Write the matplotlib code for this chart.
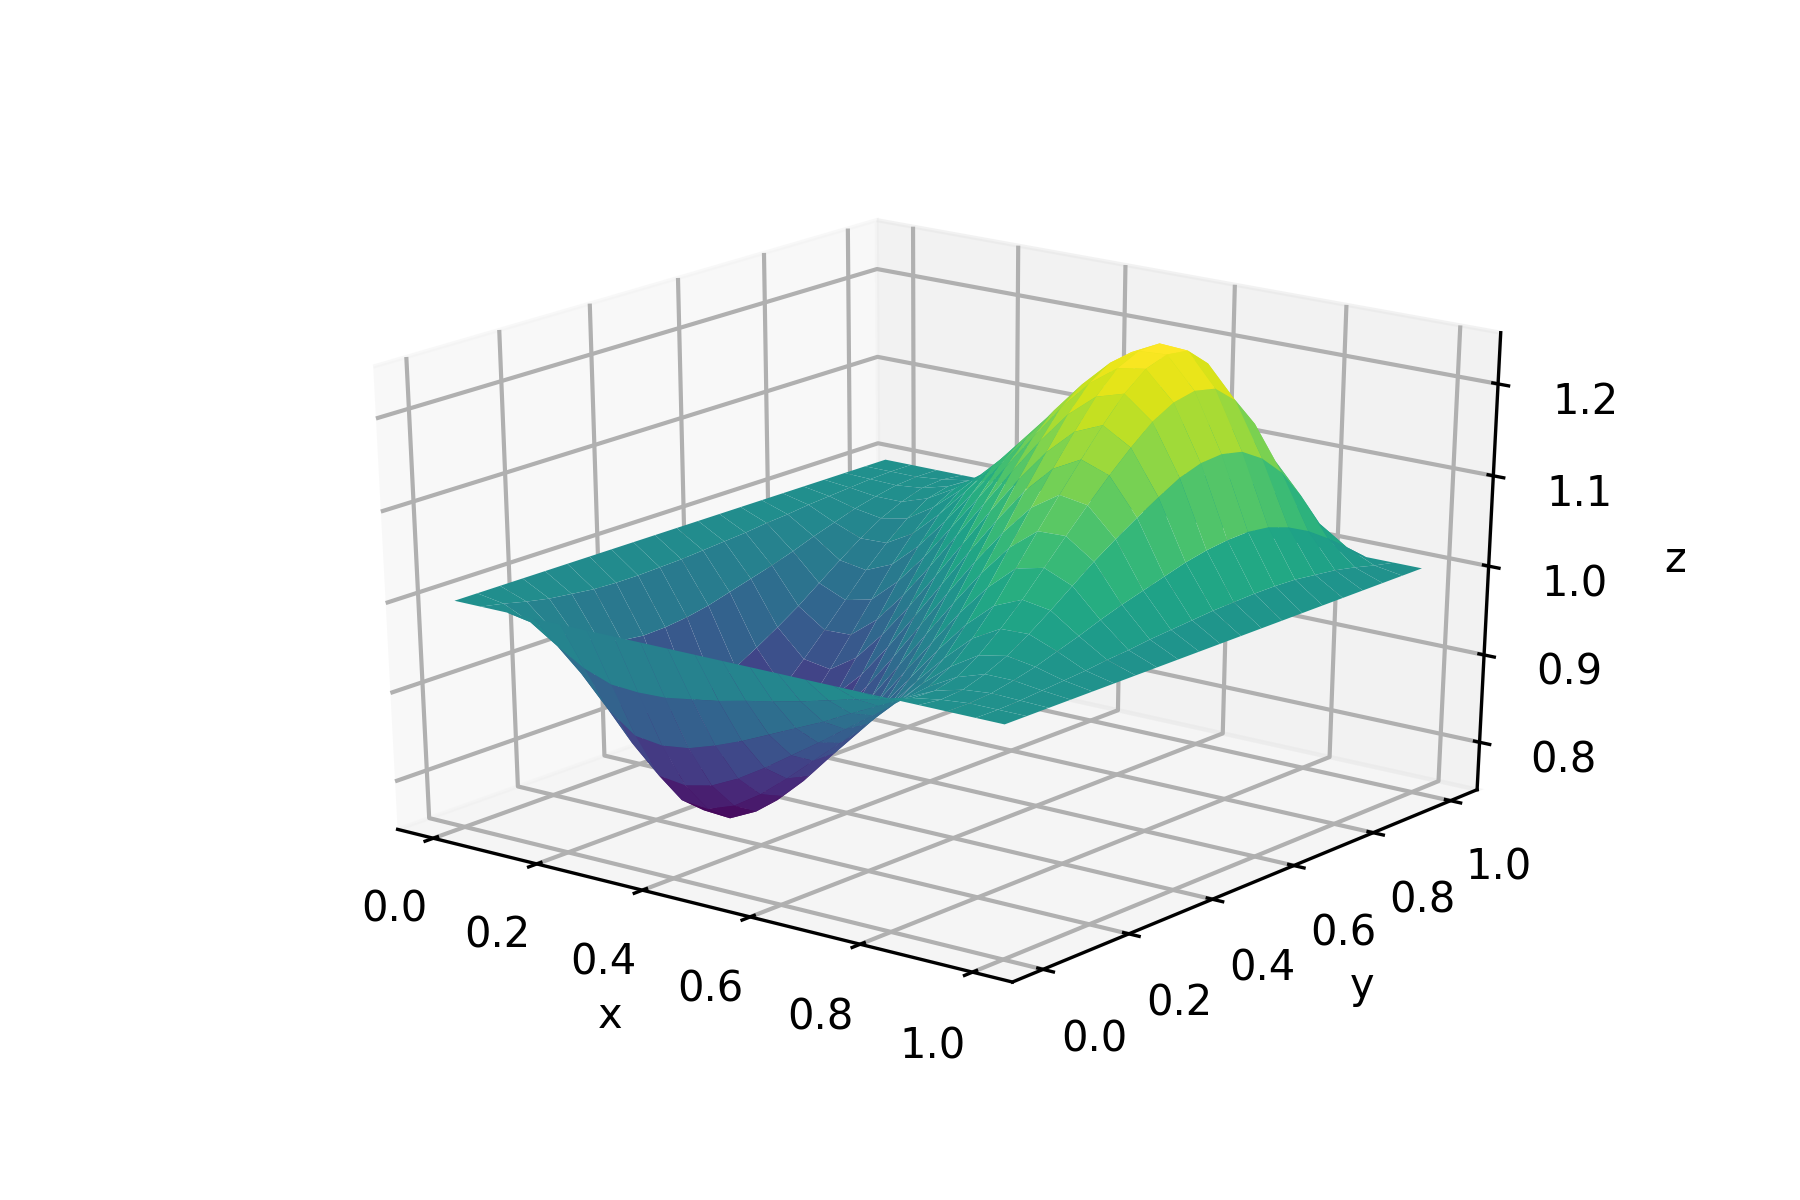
import numpy as np
import matplotlib
matplotlib.use("Agg")
import matplotlib.pyplot as plt

# grid: 20 cells each way
x_vals = [0.00, 0.05, 0.10, 0.15, 0.20, 0.25, 0.30, 0.35, 0.40, 0.45, 0.50,
          0.55, 0.60, 0.65, 0.70, 0.75, 0.80, 0.85, 0.90, 0.95, 1.00]
y_vals = list(x_vals)
x_ticks = [0.0, 0.2, 0.4, 0.6, 0.8, 1.0]
y_ticks = [0.0, 0.2, 0.4, 0.6, 0.8, 1.0]
z_ticks = [0.8, 0.9, 1.0, 1.1, 1.2]

# surface height, one row per x value
z_vals = [
    [1.0] * 21,
    [1.0, .995, .989, .984, .981, .978, .977, .977, .978, .979, .981, .983, .985, .988, .990, .993, .995, .997, .999, 1.0, 1.0],
    [1.0, .981, .963, .947, .935, .927, .924, .925, .928, .933, .940, .947, .954, .962, .971, .979, .987, .993, .998, 1.0, 1.0],
    [1.0, .961, .922, .889, .866, .851, .846, .848, .856, .869, .883, .898, .914, .932, .950, .967, .982, .993, 1.001, 1.003, 1.0],
    [1.0, .943, .888, .842, .809, .789, .784, .789, .802, .822, .844, .868, .893, .919, .945, .968, .988, 1.003, 1.009, 1.008, 1.0],
    [1.0, .932, .866, .812, .775, .754, .751, .759, .778, .804, .833, .863, .894, .926, .958, .985, 1.007, 1.020, 1.023, 1.016, 1.0],
    [1.0, .930, .862, .808, .772, .752, .753, .764, .787, .817, .849, .883, .918, .953, .985, 1.013, 1.032, 1.042, 1.039, 1.023, 1.0],
    [1.0, .931, .866, .815, .783, .767, .771, .786, .812, .845, .879, .916, .952, .987, 1.019, 1.045, 1.061, 1.065, 1.054, 1.031, 1.0],
    [1.0, .936, .876, .830, .803, .792, .800, .818, .847, .881, .917, .954, .991, 1.026, 1.056, 1.079, 1.090, 1.087, 1.070, 1.039, 1.0],
    [1.0, .941, .888, .849, .828, .822, .834, .856, .886, .921, .958, .995, 1.032, 1.065, 1.093, 1.112, 1.118, 1.109, 1.084, 1.046, 1.0],
    [1.0, .948, .902, .870, .855, .855, .871, .895, .927, .963, 1.0, 1.037, 1.073, 1.105, 1.129, 1.145, 1.145, 1.130, 1.098, 1.052, 1.0],
    [1.0, .954, .916, .891, .882, .888, .907, .935, .968, 1.005, 1.042, 1.079, 1.114, 1.144, 1.166, 1.178, 1.172, 1.151, 1.112, 1.059, 1.0],
    [1.0, .961, .930, .913, .910, .921, .944, .974, 1.009, 1.046, 1.083, 1.119, 1.153, 1.182, 1.200, 1.208, 1.197, 1.170, 1.124, 1.064, 1.0],
    [1.0, .969, .946, .935, .939, .955, .981, 1.013, 1.048, 1.084, 1.121, 1.155, 1.188, 1.214, 1.229, 1.233, 1.217, 1.185, 1.134, 1.069, 1.0],
    [1.0, .977, .961, .958, .968, .987, 1.015, 1.047, 1.082, 1.117, 1.151, 1.183, 1.213, 1.236, 1.247, 1.248, 1.228, 1.192, 1.138, 1.070, 1.0],
    [1.0, .984, .977, .980, .993, 1.015, 1.042, 1.074, 1.106, 1.137, 1.167, 1.196, 1.222, 1.241, 1.249, 1.246, 1.225, 1.188, 1.134, 1.068, 1.0],
    [1.0, .992, .991, .997, 1.012, 1.032, 1.055, 1.081, 1.107, 1.132, 1.156, 1.178, 1.198, 1.211, 1.216, 1.211, 1.191, 1.158, 1.112, 1.057, 1.0],
    [1.0, .997, .999, 1.007, 1.018, 1.033, 1.050, 1.068, 1.086, 1.102, 1.117, 1.131, 1.144, 1.152, 1.154, 1.149, 1.134, 1.111, 1.078, 1.039, 1.0],
    [1.0, 1.0, 1.002, 1.007, 1.013, 1.021, 1.029, 1.038, 1.046, 1.053, 1.060, 1.067, 1.072, 1.075, 1.076, 1.073, 1.065, 1.053, 1.037, 1.019, 1.0],
    [1.0, 1.0, 1.001, 1.003, 1.005, 1.007, 1.010, 1.012, 1.015, 1.017, 1.019, 1.021, 1.022, 1.023, 1.023, 1.022, 1.019, 1.016, 1.011, 1.005, 1.0],
    [1.0] * 21,
]

plt.rcParams["grid.linewidth"] = 1.0

X, Y = np.meshgrid(x_vals, y_vals, indexing="ij")
Z = np.array(z_vals)

fig = plt.figure(figsize=(6, 4), dpi=300)
ax = fig.add_subplot(111, projection="3d")
ax.plot_surface(X, Y, Z, cmap="viridis", rstride=1, cstride=1, linewidth=0)

ax.view_init(elev=25, azim=-52)
ax.set_box_aspect((1, 1, 1), zoom=0.935)
# let the cube stretch with the subplot rectangle instead of staying square
ax.apply_aspect = lambda position=None: None
ax.set_position([0.12, 0.1227, 0.785, 0.76])
ax.set_xlim(-0.07, 1.07)
ax.set_ylim(-0.07, 1.07)
ax.set_zlim(0.745, 1.255)
ax.set_xticks(x_ticks)
ax.set_yticks(y_ticks)
ax.set_zticks(z_ticks)
ax.set_xlabel("x")
ax.set_ylabel("y")
ax.set_zlabel("z")

fig.savefig("out.png", dpi=300)
